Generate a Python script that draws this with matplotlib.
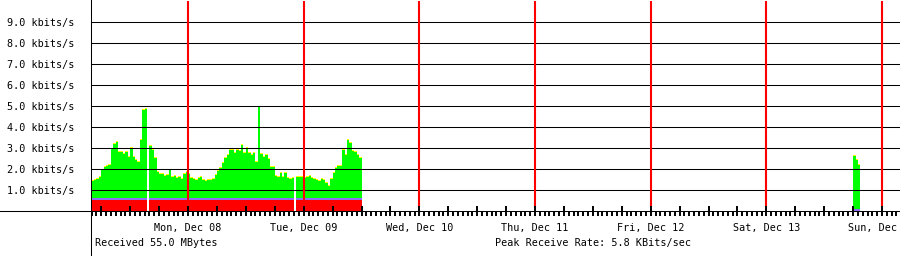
import matplotlib
matplotlib.use("Agg")
import matplotlib.pyplot as plt
from matplotlib.lines import Line2D
from matplotlib.ticker import FixedLocator, FuncFormatter
import numpy as np

# ---------------- data ----------------
# time axis in hours relative to Mon, Dec 08 00:00
x_start_hours = -20.13
x_end_hours = 147.73
bin_hours = 0.5

day_hours = [0, 24, 48, 72, 96, 120, 144]
day_labels = ["Mon, Dec 08", "Tue, Dec 09", "Wed, Dec 10", "Thu, Dec 11",
              "Fri, Dec 12", "Sat, Dec 13", "Sun, Dec 14"]

y_ticks = [1, 2, 3, 4, 5, 6, 7, 8, 9]
y_labels = ["1.0 kbits/s", "2.0 kbits/s", "3.0 kbits/s", "4.0 kbits/s",
            "5.0 kbits/s", "6.0 kbits/s", "7.0 kbits/s", "8.0 kbits/s",
            "9.0 kbits/s"]

# segment 1: starts Sun Dec 07 04:00, 30-minute bins, total rate (kbits/s)
seg1_start = -20.0
seg1_total = [
    1.43, 1.48, 1.52, 1.60, 1.95, 2.11, 2.14, 2.19, 2.94, 3.17,
    3.30, 2.83, 2.83, 2.70, 2.83, 2.59, 3.00, 2.56, 2.43, 2.35,
    3.38, 4.81, 4.87, 0.00, 3.10, 2.90, 2.51, 1.87, 1.76, 1.76,
    1.67, 1.71, 1.95, 1.60, 1.67, 1.56, 1.63, 1.51, 1.76, 1.87,
    1.75, 1.56, 1.51, 1.48, 1.56, 1.63, 1.48, 1.44, 1.48, 1.48,
    1.51, 1.71, 1.92, 2.03, 2.27, 2.51, 2.67, 2.90, 2.90, 2.75,
    2.90, 2.87, 3.14, 2.75, 2.98, 2.75, 2.67, 2.75, 2.35, 4.95,
    2.71, 2.59, 2.67, 2.46, 2.11, 2.10, 1.67, 1.63, 1.83, 1.60,
    1.79, 1.56, 1.52, 1.56, 0.00, 1.63, 1.63, 1.60, 1.58, 1.60,
    1.67, 1.56, 1.52, 1.48, 1.43, 1.52, 1.48, 1.32, 1.21, 1.51,
    1.83, 2.03, 2.16, 2.14, 2.90, 2.67, 3.38, 3.22, 2.87, 2.83,
    2.67, 2.51,
]
# segment 2: starts Sat Dec 13 18:00
seg2_start = 138.0
seg2_total = [2.60, 2.45, 2.20]

seg_starts = [seg1_start, seg2_start]
seg_totals = [seg1_total, seg2_total]
seg_red = [0.52, 0.00]      # red base layer level per segment
seg_purple = [0.11, 0.10]   # purple layer thickness per segment
yellow_cap = 0.05           # thin yellow cap on top of green

received_text = "Received 55.0 MBytes"
peak_text = "Peak Receive Rate: 5.8 KBits/sec"

# ---------------- style ----------------
C_RED = "#FF0000"
C_GREEN = "#00FF00"
C_PURPLE = "#8F70F5"
C_YELLOW = "#FFFF00"
FONT = "DejaVu Sans Mono"
FS = 7.3

W, H = 900, 256
fig = plt.figure(figsize=(W / 100, H / 100), dpi=100)
fig.patch.set_facecolor("white")
ax = fig.add_axes([91 / W, 45 / H, 1 - 91 / W, 210 / H])
ax.set_xlim(x_start_hours, x_end_hours)
ax.set_ylim(0, 10)
for s in ax.spines.values():
    s.set_visible(False)
ax.set_axisbelow(False)

# stacked layers
for start, totals, red, purple in zip(seg_starts, seg_totals, seg_red, seg_purple):
    tot = np.array(totals, dtype=float)
    has = tot > 0
    edges = start + bin_hours * np.arange(len(tot) + 1)
    red_top = np.where(has, red, 0.0)
    pur_top = np.where(has, red + purple, 0.0)
    grn_top = np.where(has, tot, 0.0)
    yel_top = np.where(has, tot + yellow_cap, 0.0)
    ax.stairs(red_top, edges, baseline=0, fill=True, color=C_RED, lw=0, zorder=1)
    ax.stairs(pur_top, edges, baseline=red_top, fill=True, color=C_PURPLE, lw=0, zorder=1)
    ax.stairs(grn_top, edges, baseline=pur_top, fill=True, color=C_GREEN, lw=0, zorder=1)
    ax.stairs(yel_top, edges, baseline=grn_top, fill=True, color=C_YELLOW, lw=0, zorder=1)

# grid
for yv in y_ticks:
    ax.axhline(yv, color="black", lw=0.75, zorder=2.2)

# day separators
for dh in day_hours:
    ax.axvline(dh, ymin=5 / 210, ymax=1, color=C_RED, lw=1.5, zorder=2.4)

# x ticks: hourly below baseline, 6-hourly above
hours = np.arange(np.ceil(x_start_hours), np.floor(x_end_hours) + 1)
six = hours[hours % 6 == 0]
ax.xaxis.remove_overlapping_locs = False
ax.xaxis.set_major_locator(FixedLocator(hours))
ax.xaxis.set_minor_locator(FixedLocator(six))


def fmt(v, pos):
    iv = int(round(v))
    if iv in day_hours:
        return day_labels[day_hours.index(iv)]
    return ""


ax.xaxis.set_major_formatter(FuncFormatter(fmt))
ax.tick_params(axis="x", which="major", direction="out", length=3.8, width=1.4,
               color="black", pad=4.5, labelsize=FS)
ax.tick_params(axis="x", which="minor", direction="in", length=3.8, width=1.4,
               color="black")
for lab in ax.get_xticklabels():
    lab.set_fontfamily(FONT)

ax.set_yticks(y_ticks)
ax.set_yticklabels(y_labels, fontfamily=FONT, fontsize=FS)
ax.tick_params(axis="y", length=0, pad=12.2)

# axis lines spanning whole figure
fig.add_artist(Line2D([90.5 / W, 90.5 / W], [0, 1], transform=fig.transFigure,
                      color="black", lw=0.75))
fig.add_artist(Line2D([0, 1], [45.5 / H, 45.5 / H], transform=fig.transFigure,
                      color="black", lw=0.75))

fig.text(95 / W, 1 - 243 / H, received_text, fontfamily=FONT, fontsize=FS,
         ha="left", va="center")
fig.text(495 / W, 1 - 243 / H, peak_text, fontfamily=FONT, fontsize=FS,
         ha="left", va="center")

fig.savefig("out.png", dpi=100)
